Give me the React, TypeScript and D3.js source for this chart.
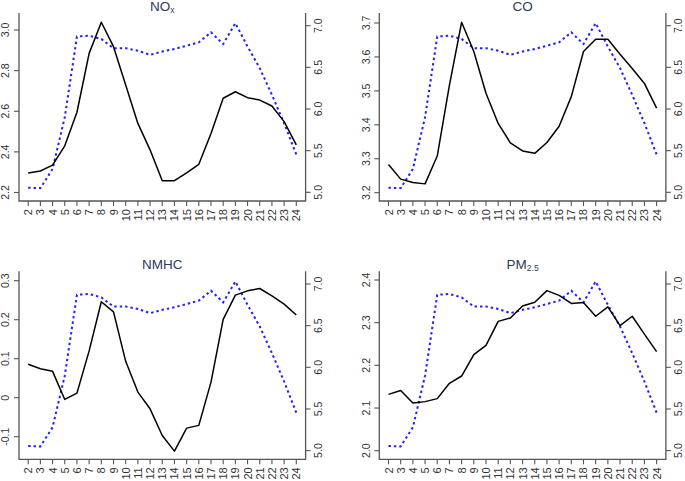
import React from "react";
import * as d3 from "d3";

const hours = [2,3,4,5,6,7,8,9,10,11,12,13,14,15,16,17,18,19,20,21,22,23,24];

const blueSeries = [5.055,5.05,5.28,5.9,6.87,6.88,6.84,6.73,6.73,6.7,6.65,6.69,6.72,6.76,6.8,6.92,6.78,7.03,6.75,6.49,6.17,5.83,5.455];

const noxValues = [2.296,2.306,2.335,2.43,2.595,2.885,3.038,2.918,2.729,2.54,2.41,2.258,2.258,2.297,2.339,2.49,2.664,2.696,2.667,2.655,2.626,2.549,2.434];
const coValues = [3.283,3.24,3.23,3.226,3.308,3.517,3.702,3.616,3.493,3.404,3.347,3.323,3.316,3.348,3.396,3.483,3.616,3.652,3.652,3.608,3.566,3.522,3.449];
const nmhcValues = [0.0856,0.0744,0.0676,-0.0045,0.0118,0.12,0.246,0.22,0.0933,0.0144,-0.0285,-0.097,-0.137,-0.078,-0.071,0.04,0.201,0.263,0.274,0.28,0.261,0.24,0.212];
const pmValues = [2.132,2.141,2.112,2.115,2.122,2.158,2.175,2.225,2.247,2.303,2.311,2.339,2.348,2.375,2.364,2.345,2.347,2.315,2.337,2.293,2.315,2.273,2.232];

const noxTicks = [2.2,2.4,2.6,2.8,3.0];
const coTicks = [3.2,3.3,3.4,3.5,3.6,3.7];
const nmhcTicks = [-0.1,0,0.1,0.2,0.3];
const pmTicks = [2.0,2.1,2.2,2.3,2.4];
const rightTicks = [5.0,5.5,6.0,6.5,7.0];

const W = 286.6;
const H = 188;

type Panel = {
  title: string; sub?: string; x: number; y: number;
  values: number[]; ticks: number[]; relMin: number; relMax: number;
  fmt: (v: number) => string;
};

const fmt1 = (v: number) => v.toFixed(1);
const fmtN = (v: number) => (v === 0 ? "0" : v.toFixed(1));

const panels: Panel[] = [
  { title: "NO", sub: "x", x: 19, y: 13, values: noxValues, ticks: noxTicks, relMin: 179.5, relMax: 17, fmt: fmt1 },
  { title: "CO", x: 379.3, y: 13, values: coValues, ticks: coTicks, relMin: 179.7, relMax: 10, fmt: fmt1 },
  { title: "NMHC", x: 19, y: 271.3, values: nmhcValues, ticks: nmhcTicks, relMin: 165.4, relMax: 9.4, fmt: fmtN },
  { title: "PM", sub: "2.5", x: 379.3, y: 271.3, values: pmValues, ticks: pmTicks, relMin: 179.4, relMax: 8.7, fmt: fmt1 },
];

const axisColor = "#555";
const labelColor = "#333";
const font = "Liberation Sans, Arial, sans-serif";

function PanelView({ p }: { p: Panel }) {
  const x = d3.scaleLinear().domain([2, 24]).range([p.x + 9.2, p.x + 277.3]);
  const yL = d3.scaleLinear().domain([p.ticks[0], p.ticks[p.ticks.length - 1]]).range([p.y + p.relMin, p.y + p.relMax]);
  const yR = d3.scaleLinear().domain([5, 7]).range([p.y + 179.3, p.y + 12.7]);
  const lineL = d3.line<number>().x((_, i) => x(hours[i])).y((d) => yL(d));
  const lineR = d3.line<number>().x((_, i) => x(hours[i])).y((d) => yR(d));
  const bottom = p.y + H;
  const left = p.x;
  const right = p.x + W;
  return (
    <g>
      <text x={p.x + W / 2} y={p.y - 2} textAnchor="middle" fontSize={13.5} fill="#2e3b5c" fontFamily={font}>
        {p.title}
        {p.sub && <tspan fontSize={8.5} dy={2}>{p.sub}</tspan>}
      </text>
      <path d={lineR(blueSeries) || ""} fill="none" stroke="#1f1fff" strokeWidth={2} strokeDasharray="2.4,3" />
      <path d={lineL(p.values) || ""} fill="none" stroke="#000" strokeWidth={1.5} strokeLinejoin="round" />
      <path d={`M${left},${p.y}V${bottom}H${right}V${p.y}`} fill="none" stroke={axisColor} strokeWidth={1.3} />
      {p.ticks.map((t) => (
        <g key={"l" + t}>
          <line x1={left} x2={left - 5} y1={yL(t)} y2={yL(t)} stroke={axisColor} strokeWidth={1.1} />
          <text transform={`translate(${left - 9.6},${yL(t)}) rotate(-90)`} textAnchor="middle" fontSize={10.6} fill={labelColor} fontFamily={font}>{p.fmt(t)}</text>
        </g>
      ))}
      {rightTicks.map((t) => (
        <g key={"r" + t}>
          <line x1={right} x2={right + 5} y1={yR(t)} y2={yR(t)} stroke={axisColor} strokeWidth={1.1} />
          <text transform={`translate(${right + 16},${yR(t)}) rotate(-90)`} textAnchor="middle" fontSize={10.6} fill={labelColor} fontFamily={font}>{t.toFixed(1)}</text>
        </g>
      ))}
      {hours.map((h) => (
        <g key={"b" + h}>
          <line x1={x(h)} x2={x(h)} y1={bottom} y2={bottom + 5} stroke={axisColor} strokeWidth={1.1} />
          <text transform={`translate(${x(h) + 4},${bottom + 8}) rotate(-90)`} textAnchor="end" fontSize={11} fill={labelColor} fontFamily={font}>{String(h)}</text>
        </g>
      ))}
    </g>
  );
}

export default function App() {
  return (
    <div style={{ position: "absolute", left: 0, top: 0 }}>
      <svg width={685} height={481} style={{ display: "block", background: "#fff" }}>
        {panels.map((p) => (
          <PanelView key={p.title} p={p} />
        ))}
      </svg>
    </div>
  );
}
